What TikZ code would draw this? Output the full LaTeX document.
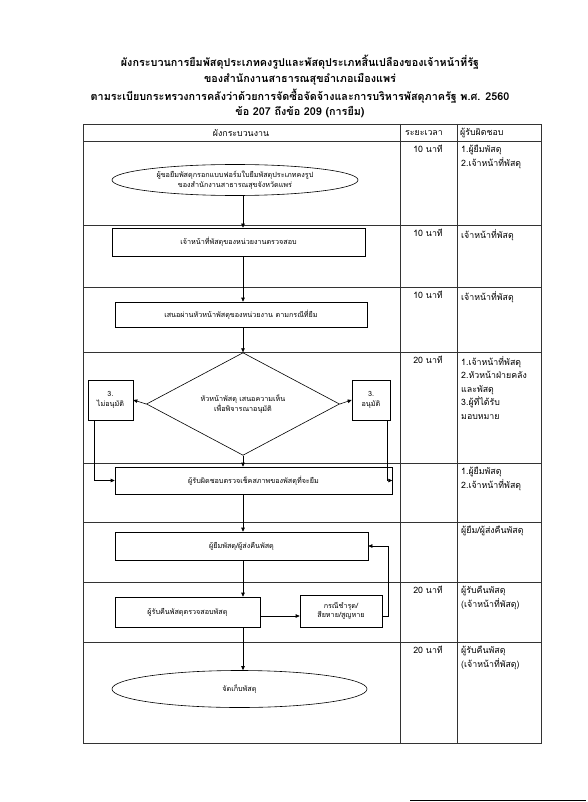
\documentclass[tikz,border=0pt]{standalone}
\usepackage{fontspec}
\setmainfont[Script=Thai]{Loma}
\usetikzlibrary{shapes.geometric,arrows.meta}
\begin{document}
\begin{tikzpicture}[x=1pt,y=-1pt,
  grid/.style={line width=0.6pt, draw=black!80},
  fbox/.style={draw, line width=0.6pt, inner sep=0pt, font=\fontsize{7.2}{9.5}\selectfont, align=center},
  fell/.style={fbox, ellipse},
  fdia/.style={fbox, diamond},
  arr/.style={line width=0.6pt, -{Triangle[length=4pt,width=3.5pt]}},
  ttl/.style={font=\bfseries\fontsize{10.8}{12}\selectfont, inner sep=0pt},
  hdr/.style={font=\fontsize{8.8}{10}\selectfont, inner sep=0pt},
  cell/.style={font=\fontsize{8.8}{13.5}\selectfont, inner sep=0pt, align=left, anchor=north west},
  tcell/.style={font=\fontsize{8.8}{13.5}\selectfont, inner sep=0pt, anchor=north}
]
\useasboundingbox[fill=white] (0,0) rectangle (588,802);

% title
\node[ttl] (t1) at (300,62) {ผังกระบวนการยืมพัสดุประเภทคงรูปและพัสดุประเภทสิ้นเปลืองของเจ้าหน้าที่รัฐ};
\node[ttl] (t2) at (300,79) {ของสำนักงานสาธารณสุขอำเภอเมืองแพร่};
\node[ttl] (t3) at (300,96) {ตามระเบียบกระทรวงการคลังว่าด้วยการจัดซื้อจัดจ้างและการบริหารพัสดุภาครัฐ พ.ศ. 2560};
\node[ttl] (t4) at (300,112) {ข้อ 207 ถึงข้อ 209 (การยืม)};

% table
\draw[grid] (83,124) rectangle (541,743);
\foreach \yy in {141,225,287,352,463,522,582,642}
  \draw[grid] (83,\yy) -- (541,\yy);
\draw[grid] (400,124) -- (400,743);
\draw[grid] (457,124) -- (457,743);

\node[hdr] (h1) at (241,133) {ผังกระบวนงาน};
\node[hdr] (h2) at (424,133) {ระยะเวลา};
\node[hdr, anchor=west] (h3) at (460,133) {ผู้รับผิดชอบ};

% time column
\node[tcell] (m1) at (428,145) {10 นาที};
\node[tcell] (m2) at (428,229) {10 นาที};
\node[tcell] (m3) at (428,291) {10 นาที};
\node[tcell] (m4) at (428,356) {20 นาที};
\node[tcell] (m7) at (428,586) {20 นาที};
\node[tcell] (m8) at (428,646) {20 นาที};

% responsible column
\node[cell] (r1) at (461,145) {1.ผู้ยืมพัสดุ\\2.เจ้าหน้าที่พัสดุ};
\node[cell] (r2) at (461,229) {เจ้าหน้าที่พัสดุ};
\node[cell] (r3) at (461,291) {เจ้าหน้าที่พัสดุ};
\node[cell] (r4) at (461,356) {1.เจ้าหน้าที่พัสดุ\\2.หัวหน้าฝ่ายคลัง\\และพัสดุ\\3.ผู้ที่ได้รับ\\มอบหมาย};
\node[cell] (r5) at (461,467) {1.ผู้ยืมพัสดุ\\2.เจ้าหน้าที่พัสดุ};
\node[cell] (r6) at (461,526) {ผู้ยืม/ผู้ส่งคืนพัสดุ};
\node[cell] (r7) at (461,586) {ผู้รับคืนพัสดุ\\(เจ้าหน้าที่พัสดุ)};
\node[cell] (r8) at (461,646) {ผู้รับคืนพัสดุ\\(เจ้าหน้าที่พัสดุ)};

% flow
\coordinate (ax) at (243,0);
\coordinate (lx) at (94,0);
\coordinate (rx) at (387,0);
\coordinate (yl) at (0,616);

\node[fell, minimum width=246pt, minimum height=31pt] (e1) at (235,180) {ผู้ขอยืมพัสดุกรอกแบบฟอร์มใบยืมพัสดุประเภทคงรูป\\ของสำนักงานสาธารณสุขจังหวัดแพร่};
\node[fbox, minimum width=253pt, minimum height=28pt] (b2) at (238.5,242) {เจ้าหน้าที่พัสดุของหน่วยงานตรวจสอบ};
\node[fbox, minimum width=252pt, minimum height=25pt] (b3) at (241,314.5) {เสนอผ่านหัวหน้าพัสดุของหน่วยงาน ตามกรณีที่ยืม};
\node[fdia, minimum width=193pt, minimum height=84pt] (dia) at (243,404) {หัวหน้าพัสดุ เสนอความเห็น\\เพื่อพิจารณาอนุมัติ};
\node[fbox, minimum width=45pt, minimum height=40pt] (bl) at (110.5,400) {3.\\ไม่อนุมัติ};
\node[fbox, minimum width=38pt, minimum height=40pt] (br) at (371,400) {3.\\อนุมัติ};
\node[fbox, minimum width=277pt, minimum height=27pt] (b5) at (253.5,480.5) {ผู้รับผิดชอบตรวจเช็คสภาพของพัสดุที่จะยืม};
\node[fbox, minimum width=253pt, minimum height=28pt] (b6) at (241.5,546) {ผู้ยืมพัสดุ/ผู้ส่งคืนพัสดุ};
\node[fbox, minimum width=145pt, minimum height=30pt] (b7) at (187.5,612) {ผู้รับคืนพัสดุตรวจสอบพัสดุ};
\node[fbox, minimum width=82pt, minimum height=32pt] (b8) at (341,611) {กรณีชำรุด/\\สียหาย/สูญหาย};
\node[fell, minimum width=255pt, minimum height=37pt] (e2) at (239.5,689) {จัดเก็บพัสดุ};

\draw[arr] (e1.south -| ax) -- (b2.north -| ax);
\draw[arr] (b2.south -| ax) -- (b3.north -| ax);
\draw[arr] (b3.south -| ax) -- (dia.north);
\draw[arr] (dia.west) -- (bl.east);
\draw[arr] (dia.east) -- (br.west);
\draw[arr] (dia.south) -- (b5.north -| dia.south);
\draw[arr] (bl.south -| lx) |- (b5.west);
\draw[arr] (br.south -| rx) |- (b5.east);
\draw[arr] (b5.south -| ax) -- (b6.north -| ax);
\draw[arr] (b6.south -| ax) -- (b7.north -| ax);
\draw[arr] (b7.east |- yl) -- (b8.west |- yl);
\draw[arr] (b8.east |- yl) -- ++(6,0) |- (b6.east);
\draw[arr] (b7.south -| ax) -- (e2.north -| ax);

% footer line
\draw[line width=0.9pt] (410,800) -- (586,800);
\end{tikzpicture}
\end{document}
